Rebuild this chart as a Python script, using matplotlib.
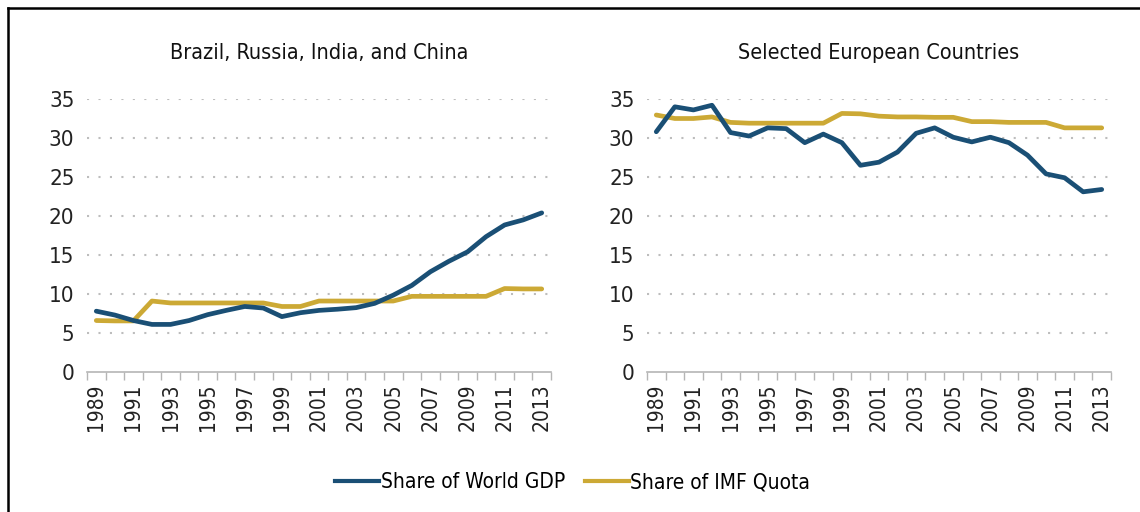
import numpy as np
import matplotlib.pyplot as plt
from matplotlib.lines import Line2D

plt.rcParams['font.family'] = ['DejaVu Sans']
plt.rcParams['font.stretch'] = 'condensed'

# Data
years = list(range(1989, 2014))
bric_gdp = [7.8, 7.3, 6.6, 6.1, 6.1, 6.6, 7.35, 7.9, 8.4, 8.2, 7.1, 7.6, 7.9,
            8.05, 8.25, 8.8, 9.85, 11.1, 12.85, 14.2, 15.4, 17.35, 18.85, 19.5, 20.4]
bric_quota = [6.6, 6.55, 6.55, 9.1, 8.85, 8.85, 8.85, 8.85, 8.85, 8.85, 8.4, 8.4, 9.1,
              9.1, 9.1, 9.1, 9.1, 9.7, 9.7, 9.7, 9.7, 9.7, 10.7, 10.65, 10.65]
eur_gdp = [30.8, 34.0, 33.6, 34.2, 30.7, 30.25, 31.3, 31.2, 29.4, 30.5, 29.4, 26.5, 26.9,
           28.2, 30.6, 31.3, 30.1, 29.5, 30.1, 29.4, 27.8, 25.4, 24.9, 23.1, 23.4]
eur_quota = [32.95, 32.5, 32.5, 32.7, 32.0, 31.9, 31.9, 31.9, 31.9, 31.9, 33.15, 33.1, 32.8,
             32.7, 32.7, 32.65, 32.65, 32.1, 32.1, 32.0, 32.0, 32.0, 31.3, 31.3, 31.3]
titles = ['Brazil, Russia, India, and China', 'Selected European Countries']
labels = ['Share of World GDP', 'Share of IMF Quota']

blue = '#1a4f75'
gold = '#cca935'
grey = '#b5b5b5'

fig = plt.figure(figsize=(11.4, 5.12), dpi=100)
ax1 = fig.add_axes([87 / 1140, 140 / 512, 464 / 1140, 273 / 512])
ax2 = fig.add_axes([647 / 1140, 140 / 512, 464 / 1140, 273 / 512])

x = np.arange(len(years))
for ax, gdp, quota, title in [(ax1, bric_gdp, bric_quota, titles[0]),
                              (ax2, eur_gdp, eur_quota, titles[1])]:
    ax.plot(x, gdp, color=blue, lw=3.4, solid_capstyle='round', zorder=3)
    ax.plot(x, quota, color=gold, lw=3.4, solid_capstyle='round', zorder=2)
    ax.set_xlim(-0.5, len(years) - 0.5)
    ax.set_ylim(0, 35)
    ax.set_yticks(range(0, 36, 5))
    for v in range(5, 36, 5):
        ax.axhline(v, color='#bdbdbd', lw=1.5, ls=(0, (1, 4.5)), zorder=1)
    ax.set_xticks(x[::2])
    ax.set_xticklabels([str(y) for y in years[::2]], rotation=90)
    ax.set_xticks(np.arange(-0.5, len(years)), minor=True)
    ax.tick_params(axis='x', which='major', length=0, pad=8, labelsize=15, colors='#222222')
    ax.tick_params(axis='x', which='minor', length=6, color=grey, width=1)
    ax.tick_params(axis='y', length=0, pad=9, labelsize=16, colors='#222222')
    for s in ['top', 'right', 'left']:
        ax.spines[s].set_visible(False)
    ax.spines['bottom'].set_color(grey)
    ax.spines['bottom'].set_linewidth(1.2)
    ax.set_title(title, fontsize=15.5, pad=29, color='#111111')

handles = [Line2D([], [], color=blue, lw=3), Line2D([], [], color=gold, lw=3)]
fig.legend(handles, labels, loc='center', bbox_to_anchor=(0.5025, 0.058), ncol=2,
           frameon=False, fontsize=15, handlelength=2.1, handletextpad=0.08,
           columnspacing=0.95)

# frame lines at the top and left edge
fig.add_artist(Line2D([8 / 1140, 1.0], [1 - 8 / 512, 1 - 8 / 512], color='black', lw=1.8))
fig.add_artist(Line2D([8 / 1140, 8 / 1140], [0, 1 - 8 / 512], color='black', lw=1.8))

fig.savefig('out.png', dpi=100)
